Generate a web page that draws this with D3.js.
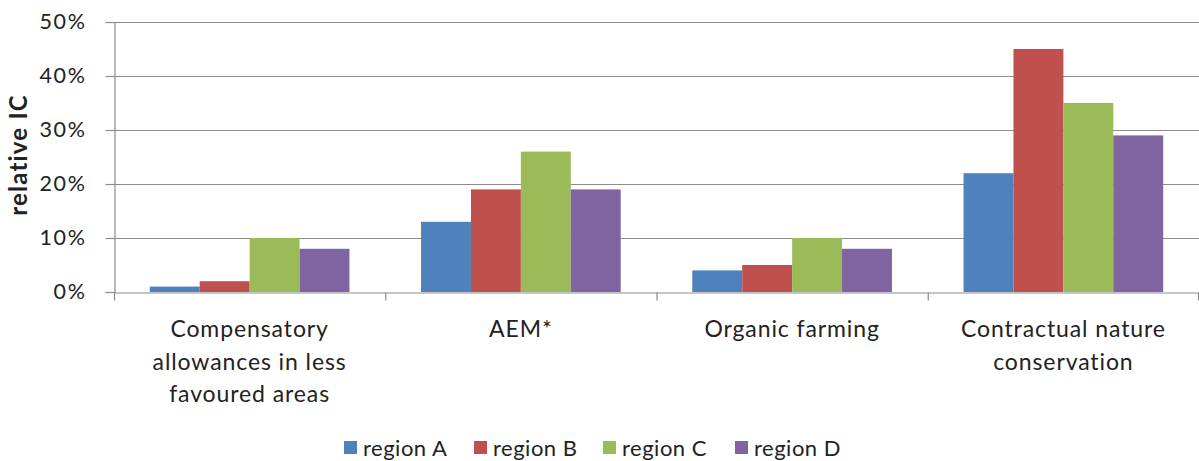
<!DOCTYPE html>
<html><head><meta charset="utf-8">
<script src="https://cdn.jsdelivr.net/npm/d3@7"></script>
<style>body{margin:0;background:#fff}svg{display:block}text{font-family:Lato,"Open Sans",sans-serif;fill:#222}</style>
</head><body><svg id="c" width="1199" height="461"></svg>
<script>
const categories = [["Compensatory","allowances in less","favoured areas"],["AEM*"],["Organic farming"],["Contractual nature","conservation"]];
const seriesNames = ["region A","region B","region C","region D"];
const regionA = [0.01,0.13,0.04,0.22];
const regionB = [0.02,0.19,0.05,0.45];
const regionC = [0.10,0.26,0.10,0.35];
const regionD = [0.08,0.19,0.08,0.29];
const colors = ["#4F81BD","#C0504D","#9BBB59","#8064A2"];
const yTicks = [0,0.1,0.2,0.3,0.4,0.5];
const series = [regionA,regionB,regionC,regionD];

const svg = d3.select("#c");
const L=114,R=1199,T=22,B=292;
const x = d3.scaleBand().domain(d3.range(categories.length)).range([L,R]).paddingInner(0).paddingOuter(0);
const y = d3.scaleLinear().domain([0,0.5]).range([B,T]);
const groupW = x.bandwidth()*0.736;
const xs = d3.scaleBand().domain(d3.range(series.length)).range([0,groupW]);

// gridlines
svg.append("g").selectAll("line").data(yTicks.slice(1)).join("line")
 .attr("x1",L).attr("x2",R).attr("y1",d=>Math.round(y(d))+0.5).attr("y2",d=>Math.round(y(d))+0.5)
 .attr("stroke","#8c8c8c").attr("stroke-width",1.2);

// bars
series.forEach((s,si)=>{
  svg.append("g").selectAll("rect").data(s).join("rect")
   .attr("x",(d,i)=>x(i)+(x.bandwidth()-groupW)/2+xs(si))
   .attr("width",xs.bandwidth())
   .attr("y",d=>y(d)).attr("height",d=>B-y(d))
   .attr("fill",colors[si]);
});

// y axis
const ya = d3.axisLeft(y).tickValues(yTicks).tickFormat(d3.format(".0%")).tickSize(9).tickPadding(19);
const gy = svg.append("g").attr("transform",`translate(${L+0.5},0)`).call(ya);
gy.select(".domain").attr("stroke","#8c8c8c").attr("stroke-width",1.2);
gy.selectAll(".tick line").attr("stroke","#8c8c8c").attr("stroke-width",1.2);
gy.selectAll(".tick text").attr("font-size",21.5).attr("letter-spacing","1.6px").attr("font-family","Lato").attr("fill","#222");

// x axis
const xa = d3.axisBottom(x).tickValues([]).tickSize(0);
const gx = svg.append("g").attr("transform",`translate(0,${B+0.5})`).call(xa);
gx.select(".domain").attr("stroke","#8c8c8c").attr("stroke-width",1.2);
gx.selectAll(".bt").data(d3.range(categories.length+1)).join("line")
 .attr("x1",i=>i<categories.length?x(i)+0.5:R-0.5).attr("x2",i=>i<categories.length?x(i)+0.5:R-0.5)
 .attr("y1",0).attr("y2",8).attr("stroke","#8c8c8c").attr("stroke-width",1.2);

// category labels
categories.forEach((lines,i)=>{
  const cx = x(i)+x.bandwidth()/2;
  const t = svg.append("text").attr("text-anchor","middle").attr("font-size",23).attr("letter-spacing","0.9px")
   .attr("x",cx).attr("y",337);
  lines.forEach((ln,j)=>t.append("tspan").attr("x",cx).attr("dy",j?32.5:0).text(ln));
});

// y title
svg.append("text").attr("transform","translate(27,155) rotate(-90)").attr("text-anchor","middle")
 .attr("font-size",24).attr("letter-spacing","1.2px").attr("font-weight","bold").text("relative IC");

// legend
const legX=[344,474,603,735];
const lg = svg.append("g");
seriesNames.forEach((n,i)=>{
  lg.append("rect").attr("x",legX[i]).attr("y",441).attr("width",13).attr("height",13).attr("fill",colors[i]);
  lg.append("text").attr("x",legX[i]+19).attr("y",456).attr("font-size",22).attr("letter-spacing","0.5px").text(n);
});
</script></body></html>
